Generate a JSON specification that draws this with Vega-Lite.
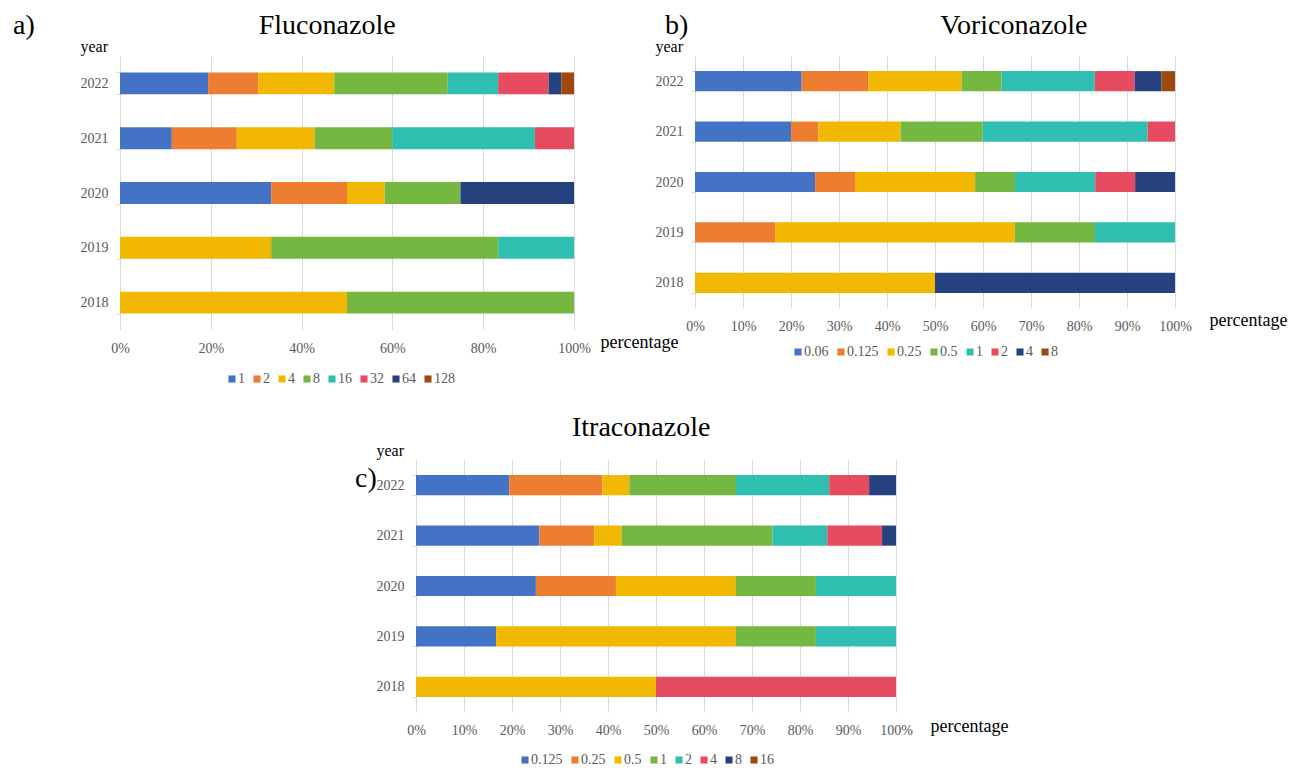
{
  "$schema": "https://vega.github.io/schema/vega-lite/v6.json",
  "background": "white",
  "padding": {"left": 13, "top": 11, "right": 5, "bottom": 0},
  "config": {
    "font": "Liberation Serif",
    "view": {"stroke": null},
    "axis": {"labelFont": "Liberation Serif", "labelFontSize": 14, "labelColor": "#595959", "titleFont": "Liberation Serif", "titleFontWeight": "normal", "titleColor": "#000000", "titleFontSize": 18, "gridColor": "#d9d9d9", "domain": false},
    "axisX": {"grid": true, "ticks": false, "labelPadding": 11, "titleAlign": "left", "titleBaseline": "alphabetic", "titleAnchor": "start", "labelFlush": false},
    "axisY": {"grid": false, "tickBand": "extent", "ticks": true, "tickSize": 4, "tickColor": "#d9d9d9", "labelPadding": 8, "titleAngle": 0, "titleAlign": "left", "titleBaseline": "alphabetic", "titleFontSize": 16, "titleX": -40, "titleY": -5},
    "legend": {"labelFont": "Liberation Serif", "labelFontSize": 14, "labelColor": "#595959", "symbolType": "square", "symbolSize": 50, "labelOffset": -1, "columnPadding": 5, "orient": "none", "direction": "horizontal", "padding": 0, "symbolStrokeWidth": 0, "gridAlign": "none"},
    "title": {"font": "Liberation Serif", "fontSize": 28, "fontWeight": "normal", "color": "#000000", "anchor": "start", "frame": "group", "offset": 5, "subtitleFont": "Liberation Serif", "subtitleFontSize": 28, "subtitleColor": "#000000"}
  },
  "datasets": {
    "flu": [
      {"year": "2022", "mic": "1", "k": 1, "pct": 19.4},
      {"year": "2022", "mic": "2", "k": 2, "pct": 11.1},
      {"year": "2022", "mic": "4", "k": 3, "pct": 16.7},
      {"year": "2022", "mic": "8", "k": 4, "pct": 25.0},
      {"year": "2022", "mic": "16", "k": 5, "pct": 11.1},
      {"year": "2022", "mic": "32", "k": 6, "pct": 11.1},
      {"year": "2022", "mic": "64", "k": 7, "pct": 2.8},
      {"year": "2022", "mic": "128", "k": 8, "pct": 2.8},
      {"year": "2021", "mic": "1", "k": 1, "pct": 11.4},
      {"year": "2021", "mic": "2", "k": 2, "pct": 14.3},
      {"year": "2021", "mic": "4", "k": 3, "pct": 17.1},
      {"year": "2021", "mic": "8", "k": 4, "pct": 17.1},
      {"year": "2021", "mic": "16", "k": 5, "pct": 31.4},
      {"year": "2021", "mic": "32", "k": 6, "pct": 8.6},
      {"year": "2020", "mic": "1", "k": 1, "pct": 33.3},
      {"year": "2020", "mic": "2", "k": 2, "pct": 16.7},
      {"year": "2020", "mic": "4", "k": 3, "pct": 8.3},
      {"year": "2020", "mic": "8", "k": 4, "pct": 16.7},
      {"year": "2020", "mic": "64", "k": 7, "pct": 25.0},
      {"year": "2019", "mic": "4", "k": 3, "pct": 33.3},
      {"year": "2019", "mic": "8", "k": 4, "pct": 50.0},
      {"year": "2019", "mic": "16", "k": 5, "pct": 16.7},
      {"year": "2018", "mic": "4", "k": 3, "pct": 50.0},
      {"year": "2018", "mic": "8", "k": 4, "pct": 50.0}
    ],
    "vori": [
      {"year": "2022", "mic": "0.06", "k": 1, "pct": 22.2},
      {"year": "2022", "mic": "0.125", "k": 2, "pct": 13.9},
      {"year": "2022", "mic": "0.25", "k": 3, "pct": 19.4},
      {"year": "2022", "mic": "0.5", "k": 4, "pct": 8.3},
      {"year": "2022", "mic": "1", "k": 5, "pct": 19.4},
      {"year": "2022", "mic": "2", "k": 6, "pct": 8.3},
      {"year": "2022", "mic": "4", "k": 7, "pct": 5.6},
      {"year": "2022", "mic": "8", "k": 8, "pct": 2.8},
      {"year": "2021", "mic": "0.06", "k": 1, "pct": 20.0},
      {"year": "2021", "mic": "0.125", "k": 2, "pct": 5.7},
      {"year": "2021", "mic": "0.25", "k": 3, "pct": 17.1},
      {"year": "2021", "mic": "0.5", "k": 4, "pct": 17.1},
      {"year": "2021", "mic": "1", "k": 5, "pct": 34.3},
      {"year": "2021", "mic": "2", "k": 6, "pct": 5.7},
      {"year": "2020", "mic": "0.06", "k": 1, "pct": 25.0},
      {"year": "2020", "mic": "0.125", "k": 2, "pct": 8.3},
      {"year": "2020", "mic": "0.25", "k": 3, "pct": 25.0},
      {"year": "2020", "mic": "0.5", "k": 4, "pct": 8.3},
      {"year": "2020", "mic": "1", "k": 5, "pct": 16.7},
      {"year": "2020", "mic": "2", "k": 6, "pct": 8.3},
      {"year": "2020", "mic": "4", "k": 7, "pct": 8.3},
      {"year": "2019", "mic": "0.125", "k": 2, "pct": 16.7},
      {"year": "2019", "mic": "0.25", "k": 3, "pct": 50.0},
      {"year": "2019", "mic": "0.5", "k": 4, "pct": 16.7},
      {"year": "2019", "mic": "1", "k": 5, "pct": 16.7},
      {"year": "2018", "mic": "0.25", "k": 3, "pct": 50.0},
      {"year": "2018", "mic": "4", "k": 7, "pct": 50.0}
    ],
    "itra": [
      {"year": "2022", "mic": "0.125", "k": 1, "pct": 19.4},
      {"year": "2022", "mic": "0.25", "k": 2, "pct": 19.4},
      {"year": "2022", "mic": "0.5", "k": 3, "pct": 5.6},
      {"year": "2022", "mic": "1", "k": 4, "pct": 22.2},
      {"year": "2022", "mic": "2", "k": 5, "pct": 19.4},
      {"year": "2022", "mic": "4", "k": 6, "pct": 8.3},
      {"year": "2022", "mic": "8", "k": 7, "pct": 5.6},
      {"year": "2021", "mic": "0.125", "k": 1, "pct": 25.7},
      {"year": "2021", "mic": "0.25", "k": 2, "pct": 11.4},
      {"year": "2021", "mic": "0.5", "k": 3, "pct": 5.7},
      {"year": "2021", "mic": "1", "k": 4, "pct": 31.4},
      {"year": "2021", "mic": "2", "k": 5, "pct": 11.4},
      {"year": "2021", "mic": "4", "k": 6, "pct": 11.4},
      {"year": "2021", "mic": "8", "k": 7, "pct": 2.9},
      {"year": "2020", "mic": "0.125", "k": 1, "pct": 25.0},
      {"year": "2020", "mic": "0.25", "k": 2, "pct": 16.7},
      {"year": "2020", "mic": "0.5", "k": 3, "pct": 25.0},
      {"year": "2020", "mic": "1", "k": 4, "pct": 16.7},
      {"year": "2020", "mic": "2", "k": 5, "pct": 16.7},
      {"year": "2019", "mic": "0.125", "k": 1, "pct": 16.7},
      {"year": "2019", "mic": "0.5", "k": 3, "pct": 50.0},
      {"year": "2019", "mic": "1", "k": 4, "pct": 16.7},
      {"year": "2019", "mic": "2", "k": 5, "pct": 16.7},
      {"year": "2018", "mic": "0.5", "k": 3, "pct": 50.0},
      {"year": "2018", "mic": "4", "k": 6, "pct": 50.0}
    ]
  },
  "spacing": 28,
  "vconcat": [
    {
      "bounds": "flush",
      "spacing": 121,
      "resolve": {"scale": {"color": "independent"}, "legend": {"color": "independent"}},
      "hconcat": [
        {
          "width": 454,
          "height": 274,
          "title": {"text": "a)\u00a0\u00a0\u00a0\u00a0\u00a0\u00a0\u00a0\u00a0\u00a0\u00a0\u00a0\u00a0\u00a0\u00a0\u00a0\u00a0\u00a0\u00a0\u00a0\u00a0\u00a0\u00a0\u00a0\u00a0\u00a0\u00a0\u00a0\u00a0\u00a0\u00a0\u00a0\u00a0Fluconazole", "dx": -107, "dy": 6.5},
          "data": {"name": "flu"},
          "mark": {"type": "bar"},
          "encoding": {
            "y": {"field": "year", "type": "ordinal", "sort": "descending", "scale": {"paddingInner": 0.6, "paddingOuter": 0.3}, "axis": {"title": "year"}},
            "x": {"field": "pct", "type": "quantitative", "stack": "normalize", "scale": {"domain": [0, 1], "nice": false}, "axis": {"values": [0, 0.2, 0.4, 0.6, 0.8, 1], "format": ".0%", "title": "percentage", "titleX": 480, "titleY": 17}},
            "color": {"field": "mic", "type": "nominal", "scale": {"domain": ["1", "2", "4", "8", "16", "32", "64", "128"], "range": ["#4472C4", "#ED7D31", "#F2B700", "#74B841", "#2FBFB1", "#E64B5F", "#25427E", "#9E480E"]}, "legend": {"title": null, "legendX": 105, "legendY": 316}},
            "order": {"field": "k", "type": "quantitative"}
          }
        },
        {
          "width": 480,
          "height": 252,
          "title": {"text": "b)\u00a0\u00a0\u00a0\u00a0\u00a0\u00a0\u00a0\u00a0\u00a0\u00a0\u00a0\u00a0\u00a0\u00a0\u00a0\u00a0\u00a0\u00a0\u00a0\u00a0\u00a0\u00a0\u00a0\u00a0\u00a0\u00a0\u00a0\u00a0\u00a0\u00a0\u00a0\u00a0\u00a0\u00a0\u00a0\u00a0Voriconazole", "dx": -30, "dy": 6.5},
          "data": {"name": "vori"},
          "mark": {"type": "bar"},
          "encoding": {
            "y": {"field": "year", "type": "ordinal", "sort": "descending", "scale": {"paddingInner": 0.6, "paddingOuter": 0.3}, "axis": {"title": "year"}},
            "x": {"field": "pct", "type": "quantitative", "stack": "normalize", "scale": {"domain": [0, 1], "nice": false}, "axis": {"values": [0, 0.1, 0.2, 0.3, 0.4, 0.5, 0.6, 0.7, 0.8, 0.9, 1], "format": ".0%", "title": "percentage", "titleX": 514, "titleY": 17}},
            "color": {"field": "mic", "type": "nominal", "scale": {"domain": ["0.06", "0.125", "0.25", "0.5", "1", "2", "4", "8"], "range": ["#4472C4", "#ED7D31", "#F2B700", "#74B841", "#2FBFB1", "#E64B5F", "#25427E", "#9E480E"]}, "legend": {"title": null, "legendX": 96, "legendY": 289}},
            "order": {"field": "k", "type": "quantitative"}
          }
        }
      ]
    },
    {
      "bounds": "flush",
      "spacing": 13,
      "resolve": {"scale": {"color": "independent"}, "legend": {"color": "independent"}},
      "hconcat": [
        {
          "width": 283,
          "height": 1,
          "data": {"values": []},
          "mark": "point"
        },
        {
          "width": 480,
          "height": 252,
          "title": {"text": "\u200b\u00a0\u00a0\u00a0\u00a0\u00a0\u00a0\u00a0\u00a0\u00a0\u00a0\u00a0\u00a0\u00a0\u00a0\u00a0\u00a0\u00a0\u00a0\u00a0\u00a0\u00a0\u00a0\u00a0\u00a0\u00a0\u00a0\u00a0\u00a0\u00a0\u00a0\u00a0Itraconazole", "subtitle": "c)", "subtitlePadding": 23, "dx": -61, "dy": 56},
          "data": {"name": "itra"},
          "mark": {"type": "bar"},
          "encoding": {
            "y": {"field": "year", "type": "ordinal", "sort": "descending", "scale": {"paddingInner": 0.6, "paddingOuter": 0.3}, "axis": {"title": "year"}},
            "x": {"field": "pct", "type": "quantitative", "stack": "normalize", "scale": {"domain": [0, 1], "nice": false}, "axis": {"values": [0, 0.1, 0.2, 0.3, 0.4, 0.5, 0.6, 0.7, 0.8, 0.9, 1], "format": ".0%", "title": "percentage", "titleX": 514, "titleY": 19}},
            "color": {"field": "mic", "type": "nominal", "scale": {"domain": ["0.125", "0.25", "0.5", "1", "2", "4", "8", "16"], "range": ["#4472C4", "#ED7D31", "#F2B700", "#74B841", "#2FBFB1", "#E64B5F", "#25427E", "#9E480E"]}, "legend": {"title": null, "legendX": 102, "legendY": 293}},
            "order": {"field": "k", "type": "quantitative"}
          }
        }
      ]
    }
  ],
  "resolve": {"scale": {"color": "independent"}, "legend": {"color": "independent"}}
}
